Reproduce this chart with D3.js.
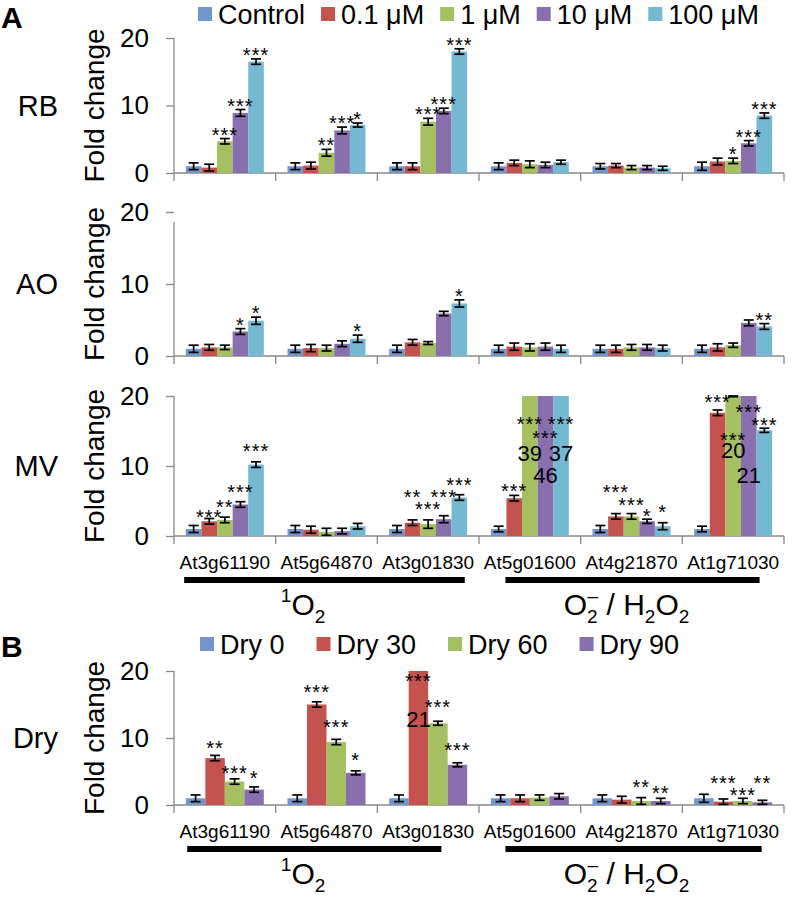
<!DOCTYPE html>
<html>
<head>
<meta charset="utf-8">
<script src="https://cdn.jsdelivr.net/npm/d3@7/dist/d3.min.js"></script>
<style>
  body { margin: 0; background: #fff; }
  svg text { font-family: "Liberation Sans", Arial, sans-serif; fill: #000; }
</style>
</head>
<body>
<svg id="chart" width="793" height="897"></svg>
<script>
// gene categories and series
const genes = ["At3g61190", "At5g64870", "At3g01830", "At5g01600", "At4g21870", "At1g71030"];
const concSeries = ["Control", "0.1 μM", "1 μM", "10 μM", "100 μM"];
const drySeries = ["Dry 0", "Dry 30", "Dry 60", "Dry 90"];
const yTicks = [0, 10, 20];
const yMax = 20;

// RB
const rbValues = [[1.0, 0.8, 4.7, 8.9, 16.5], [1.0, 1.1, 3.0, 6.3, 7.1], [1.0, 1.0, 7.6, 9.2, 18.0],
                  [1.0, 1.5, 1.3, 1.2, 1.6], [1.0, 1.1, 0.8, 0.8, 0.7], [1.0, 1.7, 1.8, 4.4, 8.5]];
const rbErrors = [[0.5, 0.5, 0.4, 0.5, 0.4], [0.5, 0.5, 0.5, 0.5, 0.3], [0.5, 0.5, 0.5, 0.4, 0.4],
                  [0.5, 0.4, 0.5, 0.4, 0.3], [0.4, 0.3, 0.3, 0.3, 0.3], [0.6, 0.5, 0.4, 0.4, 0.4]];
const rbStars = [["", "", "***", "***", "***"], ["", "", "**", "***", "*"], ["", "", "***", "***", "***"],
                 ["", "", "", "", ""], ["", "", "", "", ""], ["", "", "*", "***", "***"]];

// AO
const aoValues = [[1.0, 1.2, 1.2, 3.4, 4.9], [1.0, 1.1, 1.1, 1.7, 2.4], [1.0, 1.9, 1.8, 5.9, 7.3],
                  [1.0, 1.3, 1.2, 1.3, 1.0], [1.0, 1.0, 1.2, 1.2, 1.1], [1.0, 1.2, 1.5, 4.6, 4.1]];
const aoErrors = [[0.5, 0.4, 0.3, 0.4, 0.5], [0.5, 0.5, 0.4, 0.4, 0.5], [0.5, 0.4, 0.2, 0.3, 0.5],
                  [0.5, 0.5, 0.5, 0.5, 0.5], [0.5, 0.5, 0.4, 0.4, 0.4], [0.5, 0.5, 0.3, 0.4, 0.4]];
const aoStars = [["", "", "", "*", "*"], ["", "", "", "", "*"], ["", "", "", "", "*"],
                 ["", "", "", "", ""], ["", "", "", "", ""], ["", "", "", "", "**"]];

// MV (values above 20 are cut off and printed)
const mvValues = [[1.0, 2.1, 2.3, 4.5, 10.2], [1.0, 0.9, 0.6, 0.7, 1.4], [1.0, 1.9, 1.7, 2.4, 5.5],
                  [1.0, 5.4, 39, 46, 37], [1.0, 2.8, 2.8, 2.1, 1.4], [1.0, 17.6, 20, 21, 15.1]];
const mvErrors = [[0.5, 0.4, 0.4, 0.4, 0.4], [0.5, 0.5, 0.5, 0.4, 0.4], [0.5, 0.4, 0.6, 0.5, 0.4],
                  [0.4, 0.4, 0, 0, 0], [0.5, 0.4, 0.4, 0.3, 0.5], [0.4, 0.4, 0.1, 0, 0.3]];
const mvStars = [["", "***", "**", "***", "***"], ["", "", "", "", ""], ["", "**", "***", "***", "***"],
                 ["", "***", "***", "***", "***"], ["", "***", "***", "*", "*"], ["", "***", "***", "***", "***"]];
// height (fold change units) where the stars sit
const mvStarAt = [[null, 3.5, 4.9, 7.0, 12.9], [null, null, null, null, null], [null, 6.3, 4.6, 6.3, 8.0],
                  [null, 7.1, 16.7, 14.7, 16.7], [null, 7.0, 5.1, 3.6, 4.1], [null, 19.8, 14.4, 18.4, 16.6]];
const mvLabelAt = [[null, null, null, null, null], [null, null, null, null, null], [null, null, null, null, null],
                   [null, null, 11.9, 8.7, 11.9], [null, null, null, null, null], [null, null, 12.3, 8.7, null]];

// Dry
const dryValues = [[1.0, 7.0, 3.5, 2.3], [1.0, 15.0, 9.4, 4.8], [1.0, 21, 12.2, 6.0],
                   [1.0, 1.0, 1.1, 1.3], [1.0, 0.8, 0.6, 0.6], [1.0, 0.5, 0.6, 0.4]];
const dryErrors = [[0.5, 0.4, 0.4, 0.4], [0.5, 0.4, 0.4, 0.3], [0.5, 0, 0.3, 0.3],
                   [0.5, 0.5, 0.4, 0.4], [0.5, 0.5, 0.5, 0.4], [0.6, 0.4, 0.4, 0.3]];
const dryStars = [["", "**", "***", "*"], ["", "***", "***", "*"], ["", "***", "***", "***"],
                  ["", "", "", ""], ["", "", "**", "**"], ["", "***", "***", "**"]];
const dryStarAt = [[null, 9.3, 5.5, 4.8], [null, 17.6, 12.4, 7.5], [null, 19.2, 15.4, 9.0],
                   [null, null, null, null], [null, null, 3.5, 2.6], [null, 4.0, 2.2, 4.0]];
const dryLabelAt = [[null, null, null, null], [null, null, null, null], [null, 12.8, null, null],
                    [null, null, null, null], [null, null, null, null], [null, null, null, null]];

// ROS groups (start / end in category units)
const groupSpanA = [[0.1, 2.86], [3.26, 5.76]];
const groupSpanB = [[0.13, 2.63], [3.26, 5.78]];

const concColors = ["#7096cc", "#c4534f", "#a5c060", "#8a6fae", "#74b8d2"];

const svg = d3.select("#chart");
const x0 = 174, x1 = 784;

let x = d3.scaleBand().domain(genes).range([x0, x1]).paddingInner(0.233).paddingOuter(0.1165);

// 軸與長條
function drawPanel(opt) {
  let y = d3.scaleLinear().domain([0, yMax]).range([opt.bottom, opt.top]).clamp(true);
  let xs = d3.scaleBand().domain(opt.series).range([0, x.bandwidth()]);
  let color = d3.scaleOrdinal().domain(opt.series).range(concColors);
  let g = svg.append("g");

  // y axis
  let ya = g.append("g")
    .attr("transform", `translate(${x0},0)`)
    .call(d3.axisLeft(y).tickValues(yTicks).tickSize(8).tickPadding(17));
  ya.select(".domain").remove();
  ya.selectAll(".tick line").attr("stroke", "#888").attr("stroke-width", 1.3);
  ya.selectAll(".tick text").style("font-size", "26px");
  g.append("line")
    .attr("x1", x0).attr("x2", x0)
    .attr("y1", y(yMax) + (opt.axisGap || 0)).attr("y2", y(0) + 8)
    .attr("stroke", "#888").attr("stroke-width", 1.3);

  // x axis with boundary ticks
  g.append("line")
    .attr("x1", x0).attr("x2", x1)
    .attr("y1", y(0)).attr("y2", y(0))
    .attr("stroke", "#888").attr("stroke-width", 1.3);
  g.selectAll(".bt")
    .data(d3.range(1, genes.length + 1))
    .join("line")
    .attr("x1", i => x0 + i * x.step()).attr("x2", i => x0 + i * x.step())
    .attr("y1", y(0)).attr("y2", y(0) + 8)
    .attr("stroke", "#888").attr("stroke-width", 1.3);

  // flatten
  let cells = [];
  genes.forEach((gene, gi) => {
    opt.series.forEach((s, si) => {
      cells.push({
        gene: gene, s: s,
        v: opt.values[gi][si],
        e: opt.errors[gi][si],
        star: opt.stars[gi][si],
        starAt: opt.starAt ? opt.starAt[gi][si] : null,
        labelAt: opt.labelAt ? opt.labelAt[gi][si] : null
      });
    });
  });

  let cx = d => x(d.gene) + xs(d.s) + xs.bandwidth() / 2;

  g.selectAll(".bar")
    .data(cells)
    .join("rect")
    .attr("x", d => x(d.gene) + xs(d.s))
    .attr("y", d => y(d.v))
    .attr("width", xs.bandwidth())
    .attr("height", d => y(0) - y(d.v))
    .attr("fill", d => color(d.s));

  // error bars
  let eb = g.selectAll(".err")
    .data(cells.filter(d => d.e > 0 && d.v - d.e < yMax))
    .join("g")
    .attr("stroke", "#000")
    .attr("stroke-width", 1.7);
  eb.append("line")
    .attr("x1", cx).attr("x2", cx)
    .attr("y1", d => y(d.v - d.e)).attr("y2", d => y(d.v + d.e));
  eb.append("line")
    .attr("x1", d => cx(d) - 5).attr("x2", d => cx(d) + 5)
    .attr("y1", d => y(d.v - d.e)).attr("y2", d => y(d.v - d.e));
  eb.append("line")
    .attr("x1", d => cx(d) - 5).attr("x2", d => cx(d) + 5)
    .attr("y1", d => y(d.v + d.e)).attr("y2", d => y(d.v + d.e));

  // stars
  g.selectAll(".star")
    .data(cells.filter(d => d.star))
    .join("text")
    .attr("text-anchor", "middle")
    .attr("x", cx)
    .attr("y", d => (d.starAt != null ? y(d.starAt) : y(d.v + d.e) - 9) + 12)
    .style("font-size", "20px")
    .style("letter-spacing", "1px")
    .text(d => d.star);

  // values of cut-off bars
  g.selectAll(".cut")
    .data(cells.filter(d => d.labelAt != null))
    .join("text")
    .attr("text-anchor", "middle")
    .attr("x", cx)
    .attr("y", d => y(d.labelAt) + 8)
    .style("font-size", "22px")
    .text(d => d.v);

  // panel name and axis title
  g.append("text")
    .attr("x", 58).attr("y", y(10) + 10)
    .attr("text-anchor", "end")
    .style("font-size", "29px")
    .text(opt.name);
  g.append("text")
    .attr("transform", `translate(${104},${y(10)}) rotate(-90)`)
    .attr("text-anchor", "middle")
    .style("font-size", "28px")
    .text("Fold change");

  return y;
}

function drawCategoryLabels(y) {
  svg.append("g").selectAll("text")
    .data(genes)
    .join("text")
    .attr("x", d => x(d) + x.bandwidth() / 2)
    .attr("y", y(0) + 33)
    .attr("text-anchor", "middle")
    .style("font-size", "19px")
    .text(d => d);
}

// chemistry labels: [text, kind] with kind n = normal, b = subscript, p = superscript
const singletLabel = [["1", "p"], ["O", "n"], ["2", "b"]];
const superoxideLabel = [["O", "n"], ["2", "b"], ["–", "p"], [" / H", "n"], ["2", "b"], ["O", "n"], ["2", "b"]];

function chemText(g, parts, cxPos, base) {
  let t = g.append("text").attr("y", base).style("font-size", "30px");
  let prev = "n";
  let shift = { n: 0, b: 8, p: -13 };
  parts.forEach(p => {
    let sp = t.append("tspan").text(p[0]);
    sp.attr("dy", shift[p[1]] - shift[prev]);
    if (p[1] !== "n") sp.style("font-size", "19px");
    // superscript right after a subscript sits above it
    if (p[1] === "p" && prev === "b") sp.attr("dx", -10);
    prev = p[1];
  });
  let w = t.node().getComputedTextLength();
  t.attr("x", cxPos - w / 2);
}

function drawGroups(y, spans) {
  let g = svg.append("g");
  g.selectAll("rect")
    .data(spans)
    .join("rect")
    .attr("x", d => x0 + d[0] * x.step())
    .attr("width", d => (d[1] - d[0]) * x.step())
    .attr("y", y(0) + 41)
    .attr("height", 6)
    .attr("fill", "#000");

  let base = y(0) + 79;
  chemText(g, singletLabel, x0 + 1.27 * x.step(), base);
  chemText(g, superoxideLabel, x0 + 4.5 * x.step(), base);
}

function drawLegend(series, yMid, startX, gap) {
  let g = svg.append("g");
  let cx = startX;
  series.forEach((s, i) => {
    g.append("rect")
      .attr("x", cx).attr("y", yMid - 7)
      .attr("width", 14).attr("height", 14)
      .attr("fill", concColors[i]);
    let t = g.append("text")
      .attr("x", cx + 20).attr("y", yMid + 10)
      .style("font-size", "27px")
      .text(s);
    cx = cx + 20 + t.node().getComputedTextLength() + gap;
  });
}

// Panel A
svg.append("text").attr("x", 1).attr("y", 28).style("font-size", "30px").style("font-weight", "bold").text("A");
drawLegend(concSeries, 14, 198, 16);

drawPanel({ name: "RB", series: concSeries, values: rbValues, errors: rbErrors, stars: rbStars, top: 38, bottom: 173 });
drawPanel({ name: "AO", series: concSeries, values: aoValues, errors: aoErrors, stars: aoStars, top: 212, bottom: 356, axisGap: 10 });
let yMV = drawPanel({ name: "MV", series: concSeries, values: mvValues, errors: mvErrors, stars: mvStars,
  starAt: mvStarAt, labelAt: mvLabelAt, top: 396, bottom: 536 });
drawCategoryLabels(yMV);
drawGroups(yMV, groupSpanA);

// Panel B
svg.append("text").attr("x", 1).attr("y", 657).style("font-size", "30px").style("font-weight", "bold").text("B");
drawLegend(drySeries, 644, 200, 32);
let yDry = drawPanel({ name: "Dry", series: drySeries, values: dryValues, errors: dryErrors, stars: dryStars,
  starAt: dryStarAt, labelAt: dryLabelAt, top: 671, bottom: 805 });
drawCategoryLabels(yDry);
drawGroups(yDry, groupSpanB);
</script>
</body>
</html>
